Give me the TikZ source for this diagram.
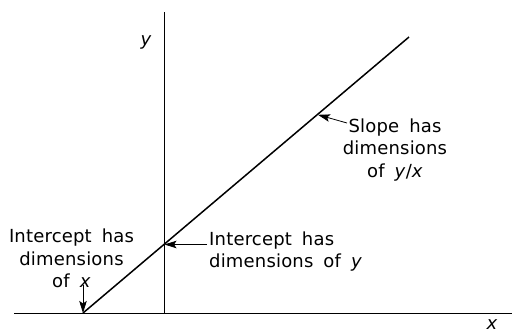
\documentclass[tikz,border=0pt]{standalone}
\usepackage{fontspec}
\setmainfont{DejaVu Sans}[WordSpace=1.7,LetterSpace=1]
\usetikzlibrary{arrows.meta}
\tikzset{
  axis/.style={line width=0.9pt},
  graphline/.style={line width=1.5pt},
  pointer/.style={line width=0.8pt,-{Stealth[length=12pt,width=7.5pt,inset=2.5pt]}},
  lbl/.style={inner sep=0pt,font=\fontsize{18}{22.5}\selectfont},
  var/.style={inner sep=0pt,font=\fontsize{18}{22.5}\selectfont\itshape},
}
\begin{document}
\begin{tikzpicture}[x=1pt,y=-1pt]
\useasboundingbox (0,0) rectangle (512,333);
% axes
\coordinate (xl) at (14,313);
\coordinate (xr) at (512,313);
\coordinate (yt) at (164,12);
\coordinate (yb) at (164,314);
\draw[axis] (xl) -- (xr);
\draw[axis] (yt) -- (yb);
% graph line
\coordinate (p0) at (83,313);
\coordinate (p1) at (409,37);
\draw[graphline] (p0) -- (p1);
\coordinate (yint) at (164.5,244.5);
\coordinate (slopept) at (318,114.8);
% labels
\node[var] (ylab) at (146,42) {y};
\node[var] (xlab) at (492,325) {x};
\node[lbl,align=center] (t1) at (71.5,258.5) {Intercept has\\dimensions\\of \textit{x}};
\node[lbl,align=left,anchor=west] (t2) at (209,251.5) {Intercept has\\dimensions of \textit{y}};
\node[lbl,align=center] (t3) at (395,150) {Slope has\\dimensions\\of \textit{y}/\textit{x}};
% pointers
\coordinate (a1s) at (83,285);
\draw[pointer] (a1s) -- (p0);
\coordinate (a2s) at (207,244.5);
\draw[pointer] (a2s) -- (yint);
\coordinate (a3s) at (347,123);
\draw[pointer] (a3s) -- (slopept);
\end{tikzpicture}
\end{document}
